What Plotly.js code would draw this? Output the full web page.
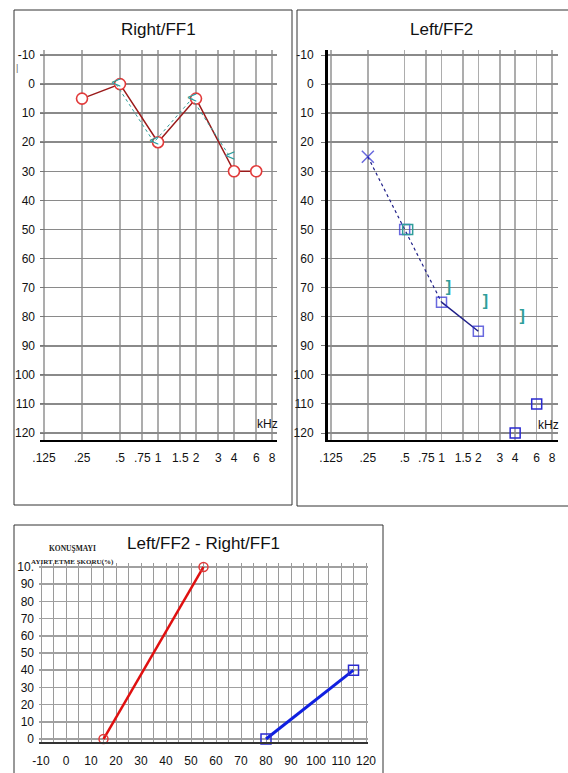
<!DOCTYPE html>
<html>
<head>
<meta charset="utf-8">
<script src="https://cdn.plot.ly/plotly-3.0.1.min.js"></script>
<style>
html,body{margin:0;padding:0;background:#fff;}
#chart{width:568px;height:773px;}
</style>
</head>
<body>
<div id="chart"></div>
<script>
// ---------- DATA ----------
const freqTicks = [0.125, 0.25, 0.5, 0.75, 1, 1.5, 2, 3, 4, 6, 8];
const freqLabels = ['.125', '.25', '.5', '.75', '1', '1.5', '2', '3', '4', '6', '8'];
const dbTicks = [-10, 0, 10, 20, 30, 40, 50, 60, 70, 80, 90, 100, 110, 120];
const dbLabels = ['-10', '0', '10', '20', '30', '40', '50', '60', '70', '80', '90', '100', '110', '120'];

// Right/FF1
const rightFreq = [0.25, 0.5, 1, 2, 4, 6];
const rightDb = [5, 0, 20, 5, 30, 30];
const rightTealFreq = [0.5, 1, 2, 4];
const rightTealDb = [0, 20, 5, 25];

// Left/FF2
const leftFreq = [0.25, 0.5, 1, 2];
const leftDb = [25, 50, 75, 85];
const leftNrFreq = [4, 6];
const leftNrDb = [120, 110];
const leftTealSqFreq = [0.5];
const leftTealSqDb = [50];
const leftBoneFreq = [1, 2, 4];
const leftBoneDb = [70, 75, 80];

// Speech discrimination (bottom)
const speechXTicks = [-10, 0, 10, 20, 30, 40, 50, 60, 70, 80, 90, 100, 110, 120];
const speechXLabels = ['-10', '0', '10', '20', '30', '40', '50', '60', '70', '80', '90', '100', '110', '120'];
const speechYTicks = [0, 10, 20, 30, 40, 50, 60, 70, 80, 90, 100];
const speechYLabels = ['0', '10', '20', '30', '40', '50', '60', '70', '80', '90', '10.'];
const rightSpeechLevel = [15, 55];
const rightSpeechScore = [0, 100];
const leftSpeechLevel = [80, 115];
const leftSpeechScore = [0, 40];

// ---------- LAYOUT HELPERS ----------
const W = 568, H = 773;
const dxp = (a, b) => [a / W, b / W];
const dyp = (top, bottom) => [1 - bottom / H, 1 - top / H];
const px = v => v / W;
const py = v => 1 - v / H;

const FONT = 'Liberation Sans, Arial, sans-serif';
const RED = '#e23a3a', DARKRED = '#9a1a1a', TEAL = '#2f9e9a', BLUE = '#2a2ad0', NAVY = '#1f1f88';

const p1Range = [-0.9348, 0.9427];
const p2Range = [-0.9277, 0.9522];
const dbRange = [122.4, -11.72];

function shift(r, d) { return [r[0] + d, r[1] + d]; }

const audX = (domain, range) => ({
  type: 'log', domain: domain, range: range,
  tickmode: 'array', tickvals: freqTicks, ticktext: freqLabels,
  showgrid: true, gridcolor: '#adadad', gridwidth: 1.5,
  showline: true, linecolor: '#000', linewidth: 2,
  ticks: '', ticklabelstandoff: 6,
  tickfont: {family: FONT, size: 12, color: '#111'},
  zeroline: false, fixedrange: true
});
const audY = (domain, standoff, tickdir) => ({
  domain: domain, range: dbRange, autorange: false,
  tickmode: 'array', tickvals: dbTicks, ticktext: dbLabels,
  showgrid: true, gridcolor: '#8a8a8a', gridwidth: 1.5,
  ticks: tickdir, ticklen: 5, tickcolor: '#777',
  ticklabelstandoff: standoff,
  tickfont: {family: FONT, size: 12, color: '#111'},
  zeroline: false, fixedrange: true
});

const layout = {
  width: W, height: H,
  margin: {l: 0, r: 0, t: 0, b: 0},
  paper_bgcolor: '#fff', plot_bgcolor: '#fff',
  showlegend: false, hovermode: false,
  xaxis: Object.assign(audX(dxp(40, 277), p1Range), {anchor: 'y'}),
  yaxis: Object.assign(audY(dyp(50, 440), 4, 'inside'), {anchor: 'x', showline: false}),
  xaxis2: Object.assign(audX(dxp(328, 558), p2Range), {anchor: 'y2'}),
  yaxis2: Object.assign(audY(dyp(50, 440), 5, 'outside'), {anchor: 'x2', showline: true, linecolor: '#000', linewidth: 3, ticklen: 4}),
  xaxis4: {type: 'log', domain: dxp(40, 277), range: shift(p1Range, 4 / 126.2), overlaying: 'x', anchor: 'y', visible: false, fixedrange: true},
  xaxis5: {type: 'log', domain: dxp(328, 558), range: shift(p2Range, -7 / 122.2), overlaying: 'x2', anchor: 'y2', visible: false, fixedrange: true},
  xaxis6: {type: 'log', domain: dxp(328, 558), range: shift(p2Range, -3 / 122.2), overlaying: 'x2', anchor: 'y2', visible: false, fixedrange: true},
  xaxis3: {
    domain: dxp(39, 368), range: [-10.8, 120.8], anchor: 'y3',
    tickmode: 'array', tickvals: speechXTicks, ticktext: speechXLabels,
    showgrid: true, gridcolor: '#9a9a9a', gridwidth: 1,
    minor: {dtick: 5, tick0: 0, showgrid: true, gridcolor: '#9a9a9a', gridwidth: 1},
    showline: true, linecolor: '#333', linewidth: 2,
    ticks: '', ticklabelstandoff: 7,
    tickfont: {family: FONT, size: 12, color: '#111'},
    zeroline: false, fixedrange: true
  },
  yaxis3: {
    domain: dyp(563, 742), range: [-1.74, 102.3], anchor: 'x3',
    tickmode: 'array', tickvals: speechYTicks, ticktext: speechYLabels,
    showgrid: true, gridcolor: '#a0a0a0', gridwidth: 1.5,
    ticks: '', ticklabelstandoff: 4,
    tickfont: {family: FONT, size: 12, color: '#111'},
    zeroline: false, fixedrange: true
  },
  shapes: [
    {type: 'rect', xref: 'paper', yref: 'paper', x0: px(14), x1: px(292), y0: py(505), y1: py(10), line: {color: '#333', width: 1}},
    {type: 'rect', xref: 'paper', yref: 'paper', x0: px(297), x1: px(575), y0: py(506), y1: py(10), line: {color: '#333', width: 1}},
    {type: 'rect', xref: 'paper', yref: 'paper', x0: px(14), x1: px(383), y0: py(790), y1: py(525), line: {color: '#333', width: 1}}
  ],
  annotations: [
    {xref: 'paper', yref: 'paper', x: px(158), y: py(30), text: 'Right/FF1', showarrow: false, xanchor: 'center', yanchor: 'middle', font: {family: FONT, size: 17, color: '#111'}},
    {xref: 'paper', yref: 'paper', x: px(441), y: py(30), text: 'Left/FF2', showarrow: false, xanchor: 'center', yanchor: 'middle', font: {family: FONT, size: 17, color: '#111'}},
    {xref: 'paper', yref: 'paper', x: px(203), y: py(543), text: 'Left/FF2 - Right/FF1', showarrow: false, xanchor: 'center', yanchor: 'middle', font: {family: FONT, size: 17, color: '#111'}},
    {xref: 'paper', yref: 'paper', x: px(267), y: py(424), text: 'kHz', showarrow: false, xanchor: 'center', yanchor: 'middle', font: {family: FONT, size: 12, color: '#111'}},
    {xref: 'paper', yref: 'paper', x: px(548), y: py(425), text: 'kHz', showarrow: false, xanchor: 'center', yanchor: 'middle', font: {family: FONT, size: 12, color: '#111'}},
    {xref: 'paper', yref: 'paper', x: px(17), y: py(68), text: '|', showarrow: false, xanchor: 'center', yanchor: 'middle', font: {family: FONT, size: 9, color: '#666'}},
    {xref: 'paper', yref: 'paper', x: px(72), y: py(548), text: '<b>KONUŞMAYI</b>', showarrow: false, xanchor: 'center', yanchor: 'middle', font: {family: 'Liberation Serif, serif', size: 7.5, color: '#222'}},
    {xref: 'paper', yref: 'paper', x: px(72), y: py(562), text: '<b>AYIRT ETME SKORU(%)</b>', showarrow: false, xanchor: 'center', yanchor: 'middle', font: {family: 'Liberation Serif, serif', size: 7, color: '#222'}}
  ]
};

const traces = [
  // Right/FF1 teal line (shifted overlay)
  {x: rightTealFreq, y: rightTealDb, xaxis: 'x4', yaxis: 'y', mode: 'lines', line: {color: TEAL, width: 1, dash: 'dot'}},
  // Right/FF1 red
  {x: rightFreq, y: rightDb, xaxis: 'x', yaxis: 'y', mode: 'lines+markers', line: {color: DARKRED, width: 1.5},
   marker: {symbol: 'circle', size: 11, color: '#fff', line: {color: RED, width: 1.6}}},
  // Right/FF1 teal markers on top
  {x: rightTealFreq, y: rightTealDb, xaxis: 'x4', yaxis: 'y', mode: 'text', text: rightTealFreq.map(() => '<'), textposition: 'middle center', textfont: {family: FONT, size: 17, color: TEAL}},

  // Left/FF2
  {x: leftFreq.slice(0, 3), y: leftDb.slice(0, 3), xaxis: 'x2', yaxis: 'y2', mode: 'lines', line: {color: NAVY, width: 1.2, dash: 'dot'}},
  {x: leftFreq.slice(2), y: leftDb.slice(2), xaxis: 'x2', yaxis: 'y2', mode: 'lines', line: {color: NAVY, width: 1.5}},
  {x: leftTealSqFreq, y: leftTealSqDb, xaxis: 'x6', yaxis: 'y2', mode: 'markers', marker: {symbol: 'square-open', size: 10, color: TEAL, line: {width: 1.5}}},
  {x: leftFreq, y: leftDb, xaxis: 'x2', yaxis: 'y2', mode: 'markers',
   marker: {symbol: leftFreq.map((f, i) => i === 0 ? 'x-thin-open' : 'square-open'), size: leftFreq.map((f, i) => i === 0 ? 12 : 10), color: BLUE, line: {color: BLUE, width: 1.5}}},
  {x: leftNrFreq, y: leftNrDb, xaxis: 'x2', yaxis: 'y2', mode: 'markers', marker: {symbol: 'square-open', size: 10, color: BLUE, line: {width: 1.5}}},
  {x: leftBoneFreq, y: leftBoneDb, xaxis: 'x5', yaxis: 'y2', mode: 'text', text: leftBoneFreq.map(() => '<b>]</b>'), textposition: 'middle center', textfont: {family: FONT, size: 16, color: TEAL}},

  // Speech discrimination
  {x: rightSpeechLevel, y: rightSpeechScore, xaxis: 'x3', yaxis: 'y3', mode: 'lines+markers', line: {color: '#e01010', width: 2.5},
   marker: {symbol: 'circle-open', size: 9, color: RED, line: {width: 1.5}}, cliponaxis: false},
  {x: leftSpeechLevel, y: leftSpeechScore, xaxis: 'x3', yaxis: 'y3', mode: 'lines+markers', line: {color: '#1020e0', width: 3},
   marker: {symbol: 'square-open', size: 10, color: BLUE, line: {width: 1.5}}, cliponaxis: false}
];

Plotly.newPlot('chart', traces, layout, {staticPlot: true, displayModeBar: false});
</script>
</body>
</html>
